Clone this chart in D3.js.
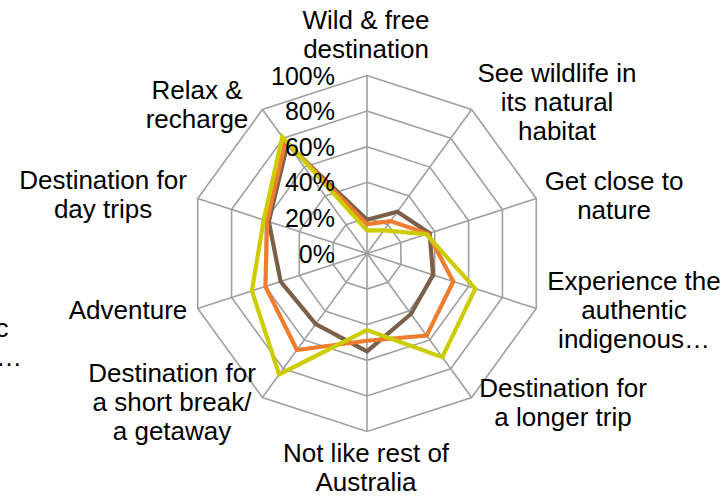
<!DOCTYPE html>
<html>
  <head>
    <meta charset="utf-8">
    <title>Radar</title>
    <script src="https://d3js.org/d3.v7.min.js"></script>
    <style>
    body { margin:0; background:#fff; }
    svg { display:block; }
    text { font-family: "Liberation Sans", Arial, sans-serif; font-size: 25px; fill: #000; }
    .label { font-size: 26px; }
    .grid { fill: none; stroke: #a0a0a0; stroke-width: 1.6px; }
    .series { fill: none; stroke-width: 4.2px; stroke-linejoin: miter; }
    </style>
  </head>
  <body>
    <script>

var categories = [
  ["Wild & free", "destination"],
  ["See wildlife in", "its natural", "habitat"],
  ["Get close to", "nature"],
  ["Experience the", "authentic", "indigenous\u2026"],
  ["Destination for", "a longer trip"],
  ["Not like rest of", "Australia"],
  ["Destination for", "a short break/", "a getaway"],
  ["Adventure"],
  ["Destination for", "day trips"],
  ["Relax &", "recharge"]
];

var seriesBrown  = [0.19, 0.29, 0.37, 0.39, 0.42, 0.55, 0.49, 0.51, 0.58, 0.76];
var seriesOrange = [0.165, 0.225, 0.36, 0.51, 0.57, 0.49, 0.67, 0.60, 0.59, 0.78];
var seriesYellow = [0.13, 0.16, 0.35, 0.64, 0.72, 0.43, 0.84, 0.68, 0.61, 0.81];

var tickValues = [0, 0.2, 0.4, 0.6, 0.8, 1];

var colors = ["#7b6049", "#ee7d2f", "#cccc00"];

// label layout: centre x and first baseline of each category label
var labelPos = [
  [366, 29], [557, 82], [614, 190], [634, 290], [563, 397],
  [366, 462], [172, 382], [128, 319], [103, 189], [197, 99]
];
var lineHeight = 29;

var width = 724, height = 497;
var cx = 367, cy = 253.5, R = 178;

var svg = d3.select("body").append("svg")
    .attr("width", width)
    .attr("height", height);

var r = d3.scaleLinear().domain([0, 1]).range([0, R]);
var angle = d3.scaleLinear().domain([0, categories.length]).range([0, 2 * Math.PI]);

var g = svg.append("g").attr("transform", "translate(" + cx + "," + cy + ")");

// rings
g.selectAll(".ring")
    .data(tickValues.slice(1))
  .enter().append("path")
    .attr("class", "grid")
    .attr("d", function(t) {
      return d3.lineRadial().curve(d3.curveLinearClosed)
        .angle(function(d, i) { return angle(i); })
        .radius(r(t))(categories);
    });

// spokes
g.selectAll(".spoke")
    .data(categories)
  .enter().append("line")
    .attr("class", "grid")
    .attr("x1", 0).attr("y1", 0)
    .attr("x2", function(d, i) { return r(1) * Math.sin(angle(i)); })
    .attr("y2", function(d, i) { return -r(1) * Math.cos(angle(i)); });

// series
var line = d3.lineRadial()
    .curve(d3.curveLinearClosed)
    .angle(function(d, i) { return angle(i); })
    .radius(function(d) { return r(d); });

g.selectAll(".series")
    .data([seriesBrown, seriesOrange, seriesYellow])
  .enter().append("path")
    .attr("class", "series")
    .attr("stroke", function(d, i) { return colors[i]; })
    .attr("d", line);

// tick labels
var fmt = d3.format(".0%");
g.selectAll(".tick")
    .data(tickValues)
  .enter().append("text")
    .attr("x", -32)
    .attr("y", function(d) { return -r(d); })
    .attr("dy", "0.36em")
    .attr("text-anchor", "end")
    .text(fmt);

// category labels
var labels = svg.selectAll(".label")
    .data(categories)
  .enter().append("text")
    .attr("class", "label")
    .attr("text-anchor", "middle")
    .attr("transform", function(d, i) { return "translate(" + labelPos[i][0] + "," + labelPos[i][1] + ")"; });

labels.selectAll("tspan")
    .data(function(d) { return d; })
  .enter().append("tspan")
    .attr("x", 0)
    .attr("y", function(d, i) { return i * lineHeight; })
    .text(function(d) { return d; });

// fragments of a label cut off at the left edge, as in the source
svg.append("text").attr("class", "label").attr("x", 8.5).attr("y", 337).attr("text-anchor", "end").text("c");
svg.append("text").attr("class", "label").attr("x", 22).attr("y", 366).attr("text-anchor", "end").text("\u2026");

    </script>
  </body>
</html>
